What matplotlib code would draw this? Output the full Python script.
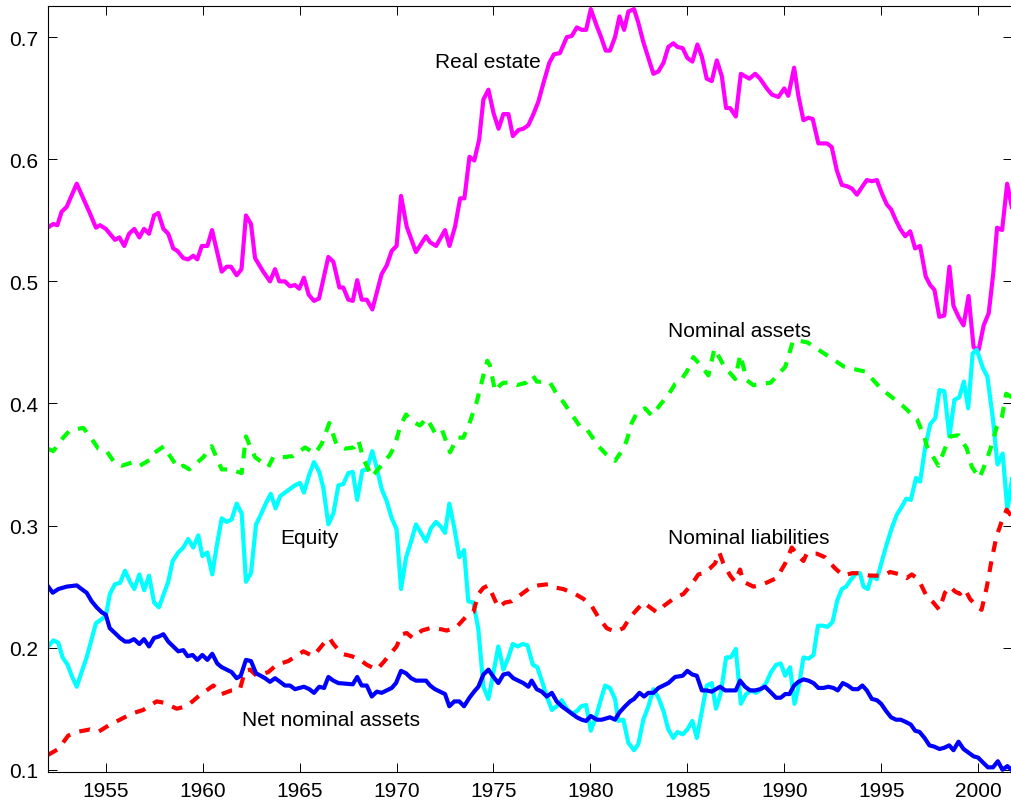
import matplotlib
matplotlib.use("Agg")
import matplotlib.pyplot as plt

plt.rcParams['font.family'] = ['Liberation Sans', 'DejaVu Sans']

# household portfolio shares, quarterly
re_year = [1952.0, 1952.29, 1952.5, 1952.72, 1952.98, 1953.5, 1953.92, 1954.2, 1954.49, 1954.7,
           1955.0, 1955.47, 1955.7, 1955.95, 1956.2, 1956.47, 1956.73, 1956.97, 1957.23, 1957.49,
           1957.71, 1957.97, 1958.22, 1958.48, 1958.69, 1959.0, 1959.25, 1959.51, 1959.72, 1959.95,
           1960.24, 1960.48, 1960.98, 1961.24, 1961.46, 1961.75, 1962.0, 1962.23, 1962.49, 1962.7,
           1963.12, 1963.47, 1963.73, 1963.95, 1964.24, 1964.5, 1964.76, 1964.98, 1965.22, 1965.47,
           1965.74, 1966.0, 1966.48, 1966.74, 1967.05, 1967.25, 1967.51, 1967.74, 1967.97, 1968.2,
           1968.46, 1968.75, 1969.23, 1969.49, 1969.75, 1970.0, 1970.23, 1970.52, 1971.0, 1971.52,
           1971.73, 1972.04, 1972.5, 1972.73, 1973.02, 1973.28, 1973.5, 1973.76, 1974.01, 1974.26,
           1974.48, 1974.74, 1975.0, 1975.26, 1975.51, 1975.77, 1976.0, 1976.29, 1976.54, 1976.8,
           1977.06, 1977.31, 1977.57, 1977.88, 1978.12, 1978.43, 1978.78, 1979.04, 1979.3, 1979.55,
           1979.78, 1980.02, 1980.33, 1980.53, 1980.79, 1981.01, 1981.27, 1981.5, 1981.74, 1981.96,
           1982.25, 1982.47, 1982.73, 1982.99, 1983.25, 1983.51, 1983.77, 1984.02, 1984.28, 1984.49,
           1984.76, 1985.0, 1985.26, 1985.52, 1985.75, 1986.0, 1986.26, 1986.52, 1986.78, 1987.0,
           1987.21, 1987.5, 1987.76, 1988.2, 1988.5, 1988.75, 1989.1, 1989.36, 1989.7, 1990.0,
           1990.21, 1990.51, 1990.73, 1990.99, 1991.25, 1991.47, 1991.76, 1992.2, 1992.45, 1992.71,
           1992.97, 1993.23, 1993.49, 1993.75, 1994.0, 1994.26, 1994.52, 1994.78, 1995.04, 1995.29,
           1995.51, 1995.76, 1995.98, 1996.24, 1996.5, 1996.75, 1997.01, 1997.3, 1997.53, 1997.75,
           1998.0, 1998.26, 1998.52, 1998.73, 1998.99, 1999.25, 1999.51, 1999.77, 2000.03, 2000.29,
           2000.55, 2000.78, 2000.98, 2001.24, 2001.5, 2001.74]
re_val = [0.544, 0.547, 0.546, 0.557, 0.561, 0.580, 0.565, 0.555, 0.544, 0.546,
          0.543, 0.534, 0.536, 0.529, 0.539, 0.543, 0.536, 0.543, 0.539, 0.554,
          0.556, 0.543, 0.539, 0.527, 0.525, 0.519, 0.518, 0.521, 0.518, 0.529,
          0.529, 0.542, 0.508, 0.512, 0.512, 0.505, 0.510, 0.554, 0.547, 0.519,
          0.508, 0.500, 0.510, 0.500, 0.500, 0.496, 0.497, 0.494, 0.503, 0.489,
          0.484, 0.486, 0.520, 0.516, 0.495, 0.495, 0.485, 0.484, 0.501, 0.485,
          0.485, 0.477, 0.506, 0.513, 0.525, 0.529, 0.570, 0.545, 0.524, 0.537,
          0.532, 0.529, 0.542, 0.529, 0.545, 0.568, 0.568, 0.602, 0.599, 0.616,
          0.649, 0.657, 0.638, 0.625, 0.637, 0.637, 0.619, 0.624, 0.625, 0.628,
          0.637, 0.647, 0.662, 0.679, 0.686, 0.687, 0.700, 0.701, 0.708, 0.706,
          0.706, 0.723, 0.709, 0.701, 0.689, 0.689, 0.700, 0.717, 0.706, 0.721,
          0.723, 0.712, 0.696, 0.683, 0.670, 0.672, 0.679, 0.692, 0.695, 0.692,
          0.691, 0.683, 0.680, 0.694, 0.684, 0.666, 0.664, 0.681, 0.668, 0.642,
          0.642, 0.635, 0.670, 0.666, 0.670, 0.666, 0.658, 0.653, 0.651, 0.658,
          0.652, 0.675, 0.652, 0.632, 0.634, 0.633, 0.613, 0.613, 0.610, 0.591,
          0.579, 0.578, 0.576, 0.571, 0.577, 0.583, 0.582, 0.583, 0.572, 0.563,
          0.559, 0.550, 0.543, 0.537, 0.541, 0.527, 0.529, 0.504, 0.497, 0.493,
          0.471, 0.472, 0.512, 0.480, 0.471, 0.464, 0.488, 0.446, 0.444, 0.464,
          0.474, 0.506, 0.544, 0.542, 0.580, 0.561]

eq_year = [1952.03, 1952.29, 1952.55, 1952.77, 1953.03, 1953.24, 1953.5, 1953.75, 1954.01, 1954.27,
           1954.49, 1954.75, 1955.0, 1955.21, 1955.47, 1955.73, 1955.99, 1956.25, 1956.47, 1956.73,
           1956.98, 1957.23, 1957.49, 1957.74, 1957.97, 1958.22, 1958.45, 1958.74, 1959.0, 1959.25,
           1959.51, 1959.77, 1959.98, 1960.24, 1960.49, 1960.72, 1960.98, 1961.24, 1961.49, 1961.75,
           1962.01, 1962.23, 1962.49, 1962.75, 1963.0, 1963.25, 1963.51, 1963.76, 1963.99, 1964.24,
           1964.5, 1964.76, 1965.02, 1965.22, 1965.5, 1965.74, 1966.01, 1966.22, 1966.48, 1966.74,
           1967.0, 1967.25, 1967.51, 1967.74, 1967.97, 1968.23, 1968.46, 1968.75, 1968.98, 1969.23,
           1969.49, 1969.75, 1970.0, 1970.23, 1970.49, 1970.75, 1971.0, 1971.26, 1971.52, 1971.78,
           1972.04, 1972.29, 1972.5, 1972.72, 1972.98, 1973.24, 1973.48, 1973.7, 1973.96, 1974.22,
           1974.48, 1974.74, 1975.0, 1975.25, 1975.51, 1975.77, 1975.99, 1976.25, 1976.51, 1976.75,
           1977.03, 1977.26, 1977.49, 1977.75, 1978.01, 1978.26, 1978.52, 1978.78, 1979.04, 1979.3,
           1979.52, 1979.78, 1980.02, 1980.28, 1980.53, 1980.76, 1981.01, 1981.27, 1981.44, 1981.7,
           1981.96, 1982.25, 1982.47, 1982.73, 1982.99, 1983.25, 1983.51, 1983.77, 1984.02, 1984.28,
           1984.49, 1984.76, 1985.0, 1985.26, 1985.49, 1985.75, 1986.0, 1986.26, 1986.48, 1986.73,
           1987.0, 1987.24, 1987.5, 1987.76, 1988.03, 1988.29, 1988.55, 1988.81, 1989.06, 1989.32,
           1989.58, 1989.82, 1990.05, 1990.3, 1990.53, 1990.78, 1990.99, 1991.25, 1991.51, 1991.74,
           1991.99, 1992.23, 1992.49, 1992.74, 1992.97, 1993.19, 1993.45, 1993.71, 1993.91, 1994.09,
           1994.31, 1994.52, 1994.78, 1995.04, 1995.29, 1995.55, 1995.81, 1996.01, 1996.29, 1996.53,
           1996.8, 1997.01, 1997.27, 1997.53, 1997.79, 1998.01, 1998.26, 1998.52, 1998.78, 1999.03,
           1999.27, 1999.49, 1999.72, 1999.93, 2000.25, 2000.48, 2000.76, 2001.0, 2001.27, 2001.51,
           2001.75]
eq_val = [0.201, 0.206, 0.204, 0.192, 0.186, 0.177, 0.168, 0.180, 0.192, 0.207,
          0.220, 0.223, 0.226, 0.244, 0.252, 0.253, 0.263, 0.254, 0.248, 0.260,
          0.247, 0.259, 0.237, 0.233, 0.243, 0.254, 0.271, 0.278, 0.282, 0.289,
          0.282, 0.292, 0.275, 0.278, 0.260, 0.283, 0.306, 0.303, 0.305, 0.318,
          0.310, 0.254, 0.261, 0.301, 0.309, 0.318, 0.326, 0.314, 0.324, 0.327,
          0.330, 0.333, 0.335, 0.327, 0.342, 0.352, 0.344, 0.331, 0.301, 0.310,
          0.333, 0.334, 0.343, 0.344, 0.321, 0.345, 0.346, 0.361, 0.347, 0.330,
          0.320, 0.306, 0.297, 0.248, 0.274, 0.287, 0.301, 0.294, 0.287, 0.298,
          0.303, 0.299, 0.294, 0.318, 0.298, 0.274, 0.280, 0.238, 0.237, 0.215,
          0.168, 0.158, 0.180, 0.201, 0.182, 0.192, 0.203, 0.201, 0.203, 0.202,
          0.186, 0.184, 0.173, 0.160, 0.149, 0.152, 0.157, 0.150, 0.146, 0.148,
          0.152, 0.153, 0.132, 0.143, 0.157, 0.169, 0.167, 0.158, 0.140, 0.141,
          0.122, 0.116, 0.121, 0.141, 0.152, 0.166, 0.159, 0.148, 0.133, 0.126,
          0.131, 0.129, 0.133, 0.140, 0.126, 0.148, 0.169, 0.171, 0.150, 0.163,
          0.192, 0.192, 0.199, 0.154, 0.162, 0.165, 0.163, 0.166, 0.171, 0.180,
          0.186, 0.187, 0.177, 0.184, 0.154, 0.171, 0.192, 0.191, 0.194, 0.218,
          0.218, 0.217, 0.221, 0.239, 0.248, 0.250, 0.256, 0.261, 0.261, 0.250,
          0.248, 0.259, 0.256, 0.271, 0.285, 0.298, 0.309, 0.314, 0.322, 0.321,
          0.339, 0.336, 0.364, 0.383, 0.388, 0.411, 0.410, 0.373, 0.403, 0.405,
          0.418, 0.396, 0.441, 0.444, 0.429, 0.422, 0.388, 0.350, 0.359, 0.313,
          0.338]

na_year = [1952.0, 1952.29, 1952.8, 1953.15, 1953.84, 1954.18, 1954.61, 1955.04, 1955.47, 1955.82,
           1956.42, 1956.76, 1957.28, 1957.45, 1958.0, 1958.31, 1958.74, 1959.0, 1959.31, 1959.6,
           1960.03, 1960.46, 1960.68, 1960.98, 1961.41, 1962.01, 1962.23, 1962.47, 1962.7, 1963.38,
           1963.64, 1964.16, 1964.67, 1965.28, 1965.79, 1966.14, 1966.53, 1966.91, 1967.34, 1967.8,
           1968.03, 1968.28, 1968.72, 1969.15, 1969.66, 1969.92, 1970.18, 1970.49, 1970.83, 1971.21,
           1971.56, 1971.98, 1972.33, 1972.76, 1973.13, 1973.44, 1973.7, 1974.13, 1974.48, 1974.68,
           1974.82, 1975.08, 1975.34, 1975.51, 1975.85, 1976.2, 1976.68, 1977.02, 1977.23, 1977.92,
           1978.18, 1978.61, 1978.95, 1979.47, 1979.81, 1980.07, 1980.41, 1980.84, 1981.27, 1981.7,
           1981.88, 1982.13, 1982.39, 1982.82, 1983.17, 1983.6, 1984.02, 1984.37, 1984.66, 1984.97,
           1985.31, 1985.75, 1986.09, 1986.4, 1986.88, 1987.47, 1987.73, 1988.07, 1988.41, 1989.3,
           1990.05, 1990.43, 1990.56, 1991.2, 1992.15, 1993.1, 1994.2, 1995.0, 1996.12, 1996.85,
           1997.22, 1997.36, 1997.95, 1998.39, 1998.56, 1998.99, 1999.42, 1999.68, 2000.07, 2000.28,
           2000.62, 2000.97, 2001.23, 2001.45, 2001.75]
na_val = [0.363, 0.361, 0.372, 0.378, 0.380, 0.373, 0.363, 0.361, 0.351, 0.349,
          0.352, 0.349, 0.354, 0.359, 0.365, 0.357, 0.347, 0.349, 0.346, 0.350,
          0.356, 0.365, 0.357, 0.346, 0.346, 0.343, 0.373, 0.364, 0.356, 0.348,
          0.356, 0.356, 0.357, 0.364, 0.359, 0.367, 0.384, 0.366, 0.363, 0.364,
          0.370, 0.355, 0.340, 0.348, 0.358, 0.366, 0.381, 0.391, 0.385, 0.382,
          0.388, 0.376, 0.379, 0.360, 0.372, 0.372, 0.381, 0.401, 0.423, 0.435,
          0.431, 0.410, 0.415, 0.417, 0.417, 0.415, 0.417, 0.423, 0.418, 0.417,
          0.410, 0.401, 0.393, 0.381, 0.379, 0.373, 0.365, 0.358, 0.353, 0.363,
          0.370, 0.384, 0.392, 0.396, 0.390, 0.399, 0.407, 0.416, 0.419, 0.426,
          0.438, 0.430, 0.423, 0.445, 0.431, 0.420, 0.440, 0.419, 0.415, 0.417,
          0.430, 0.450, 0.452, 0.450, 0.440, 0.430, 0.426, 0.412, 0.398, 0.387,
          0.373, 0.365, 0.349, 0.367, 0.373, 0.374, 0.363, 0.348, 0.339, 0.347,
          0.362, 0.381, 0.389, 0.408, 0.405]

nl_year = [1952.0, 1952.55, 1953.06, 1953.5, 1954.18, 1954.61, 1955.21, 1955.73, 1956.33, 1956.93,
           1957.62, 1957.97, 1958.66, 1959.17, 1959.77, 1960.2, 1960.55, 1960.98, 1961.49, 1961.92,
           1962.18, 1962.44, 1962.78, 1963.38, 1963.82, 1964.41, 1965.19, 1965.7, 1966.22, 1966.53,
           1966.74, 1967.17, 1967.69, 1968.12, 1968.46, 1968.98, 1969.32, 1970.0, 1970.27, 1970.52,
           1970.83, 1971.3, 1971.73, 1972.33, 1972.59, 1973.1, 1973.62, 1973.96, 1974.22, 1974.48,
           1974.74, 1974.96, 1975.25, 1975.6, 1975.94, 1976.46, 1976.97, 1977.31, 1977.83, 1978.26,
           1978.6, 1979.21, 1979.64, 1980.07, 1980.41, 1980.84, 1981.27, 1981.7, 1982.05, 1982.39,
           1982.73, 1983.08, 1983.42, 1983.77, 1984.28, 1984.8, 1985.23, 1985.57, 1985.83, 1986.17,
           1986.43, 1986.65, 1986.86, 1987.21, 1987.46, 1987.72, 1987.89, 1988.41, 1988.92, 1989.61,
           1990.05, 1990.39, 1990.73, 1990.99, 1991.16, 1991.68, 1992.11, 1992.62, 1993.05, 1993.49,
           1993.91, 1994.43, 1995.12, 1995.46, 1995.98, 1996.32, 1996.58, 1996.92, 1997.35, 1997.69,
           1998.0, 1998.29, 1998.55, 1998.81, 1999.06, 1999.32, 1999.58, 1999.92, 2000.18, 2000.44,
           2000.7, 2000.95, 2001.21, 2001.47, 2001.71]
nl_val = [0.112, 0.117, 0.128, 0.131, 0.133, 0.131, 0.137, 0.141, 0.146, 0.149,
          0.156, 0.155, 0.150, 0.152, 0.160, 0.165, 0.169, 0.162, 0.165, 0.166,
          0.181, 0.182, 0.177, 0.180, 0.186, 0.189, 0.197, 0.193, 0.203, 0.208,
          0.203, 0.195, 0.193, 0.190, 0.186, 0.182, 0.188, 0.201, 0.211, 0.212,
          0.208, 0.214, 0.216, 0.215, 0.214, 0.217, 0.226, 0.229, 0.244, 0.249,
          0.251, 0.243, 0.233, 0.237, 0.238, 0.244, 0.250, 0.251, 0.252, 0.249,
          0.248, 0.244, 0.240, 0.234, 0.225, 0.216, 0.213, 0.216, 0.225, 0.231,
          0.237, 0.233, 0.229, 0.234, 0.240, 0.244, 0.252, 0.260, 0.261, 0.265,
          0.269, 0.278, 0.269, 0.259, 0.254, 0.264, 0.254, 0.250, 0.252, 0.257,
          0.269, 0.282, 0.275, 0.271, 0.277, 0.277, 0.274, 0.265, 0.259, 0.261,
          0.261, 0.259, 0.259, 0.262, 0.260, 0.257, 0.260, 0.256, 0.242, 0.237,
          0.231, 0.245, 0.250, 0.246, 0.244, 0.248, 0.240, 0.234, 0.231, 0.249,
          0.272, 0.291, 0.303, 0.313, 0.308]

nn_year = [1952.03, 1952.26, 1952.55, 1952.98, 1953.5, 1953.75, 1954.01, 1954.27, 1954.53, 1954.79,
           1955.0, 1955.2, 1955.47, 1955.73, 1955.99, 1956.21, 1956.45, 1956.73, 1956.97, 1957.23,
           1957.49, 1957.71, 1957.97, 1958.22, 1958.48, 1958.74, 1959.0, 1959.22, 1959.48, 1959.72,
           1959.98, 1960.24, 1960.49, 1960.75, 1960.98, 1961.24, 1961.49, 1961.75, 1961.96, 1962.23,
           1962.49, 1962.75, 1962.99, 1963.21, 1963.47, 1963.73, 1963.99, 1964.24, 1964.5, 1964.76,
           1964.98, 1965.22, 1965.5, 1965.74, 1966.01, 1966.26, 1966.48, 1966.74, 1967.0, 1967.74,
           1967.97, 1968.2, 1968.46, 1968.72, 1968.98, 1969.23, 1969.49, 1969.75, 1969.97, 1970.23,
           1970.49, 1970.75, 1971.0, 1971.3, 1971.52, 1971.73, 1971.98, 1972.24, 1972.5, 1972.72,
           1972.98, 1973.24, 1973.48, 1973.76, 1974.0, 1974.22, 1974.48, 1974.74, 1975.0, 1975.25,
           1975.51, 1975.77, 1976.02, 1976.28, 1976.54, 1976.8, 1976.97, 1977.23, 1977.49, 1977.75,
           1978.01, 1978.26, 1978.52, 1978.78, 1979.04, 1979.3, 1979.55, 1979.78, 1980.02, 1980.33,
           1980.59, 1980.81, 1981.01, 1981.27, 1981.5, 1981.79, 1982.05, 1982.25, 1982.53, 1982.77,
           1982.99, 1983.25, 1983.51, 1983.77, 1984.02, 1984.37, 1984.76, 1985.0, 1985.26, 1985.49,
           1985.75, 1986.0, 1986.26, 1986.69, 1986.95, 1987.21, 1987.5, 1987.72, 1987.98, 1988.24,
           1988.5, 1988.75, 1989.01, 1989.27, 1989.58, 1989.82, 1990.05, 1990.27, 1990.51, 1990.73,
           1990.99, 1991.25, 1991.51, 1991.76, 1992.02, 1992.28, 1992.54, 1992.76, 1993.02, 1993.28,
           1993.54, 1993.8, 1994.03, 1994.26, 1994.52, 1994.78, 1995.0, 1995.26, 1995.51, 1995.77,
           1996.01, 1996.29, 1996.53, 1996.75, 1996.98, 1997.24, 1997.49, 1997.73, 1998.01, 1998.25,
           1998.51, 1998.73, 1998.99, 1999.25, 1999.51, 1999.77, 2000.0, 2000.25, 2000.51, 2000.77,
           2001.02, 2001.26, 2001.51, 2001.72]
nn_val = [0.250, 0.245, 0.248, 0.250, 0.251, 0.248, 0.245, 0.238, 0.233, 0.229,
          0.227, 0.216, 0.212, 0.208, 0.205, 0.205, 0.207, 0.203, 0.207, 0.201,
          0.208, 0.209, 0.211, 0.205, 0.201, 0.197, 0.198, 0.193, 0.194, 0.190,
          0.194, 0.190, 0.195, 0.187, 0.184, 0.182, 0.180, 0.175, 0.177, 0.190,
          0.189, 0.179, 0.177, 0.175, 0.172, 0.175, 0.172, 0.169, 0.169, 0.166,
          0.167, 0.168, 0.166, 0.163, 0.168, 0.167, 0.176, 0.173, 0.171, 0.170,
          0.176, 0.169, 0.169, 0.160, 0.164, 0.163, 0.165, 0.167, 0.171, 0.181,
          0.179, 0.175, 0.173, 0.173, 0.173, 0.169, 0.166, 0.164, 0.162, 0.152,
          0.156, 0.156, 0.152, 0.159, 0.164, 0.168, 0.178, 0.182, 0.176, 0.171,
          0.178, 0.179, 0.175, 0.173, 0.171, 0.168, 0.173, 0.166, 0.164, 0.160,
          0.163, 0.156, 0.152, 0.149, 0.146, 0.143, 0.141, 0.140, 0.144, 0.141,
          0.141, 0.142, 0.143, 0.141, 0.147, 0.152, 0.156, 0.158, 0.163, 0.160,
          0.163, 0.163, 0.167, 0.169, 0.171, 0.176, 0.177, 0.181, 0.178, 0.177,
          0.165, 0.165, 0.164, 0.168, 0.165, 0.165, 0.165, 0.173, 0.168, 0.165,
          0.165, 0.166, 0.168, 0.164, 0.159, 0.159, 0.162, 0.162, 0.169, 0.172,
          0.174, 0.173, 0.171, 0.167, 0.167, 0.168, 0.167, 0.165, 0.171, 0.169,
          0.166, 0.166, 0.169, 0.165, 0.158, 0.157, 0.154, 0.148, 0.143, 0.141,
          0.141, 0.139, 0.137, 0.132, 0.131, 0.126, 0.120, 0.119, 0.117, 0.118,
          0.120, 0.116, 0.123, 0.117, 0.114, 0.111, 0.110, 0.106, 0.102, 0.102,
          0.107, 0.100, 0.103, 0.100]

xticks = [1955, 1960, 1965, 1970, 1975, 1980, 1985, 1990, 1995, 2000]
yticks = [0.1, 0.2, 0.3, 0.4, 0.5, 0.6, 0.7]

fig = plt.figure(figsize=(10.12, 8.04), dpi=100)
ax = fig.add_axes([0.0471, 0.0389, 0.9529, 0.9528])

lw = 3
ax.plot(re_year, re_val, color='#ff00ff', lw=lw)
ax.plot(eq_year, eq_val, color='#00ffff', lw=lw)
ax.plot(na_year, na_val, color='#00ff00', lw=lw, dashes=(2.6, 2.3))
ax.plot(nl_year, nl_val, color='#ff0000', lw=lw, dashes=(2.6, 2.3))
ax.plot(nn_year, nn_val, color='#0000ff', lw=lw)

fs = 15
ax.text(1972, 0.68, 'Real estate', fontsize=fs, va='center')
ax.text(1984, 0.46, 'Nominal assets', fontsize=fs, va='center')
ax.text(1964, 0.29, 'Equity', fontsize=fs, va='center')
ax.text(1984, 0.29, 'Nominal liabilities', fontsize=fs, va='center')
ax.text(1962, 0.1415, 'Net nominal assets', fontsize=fs, va='center')

ax.set_xlim(1952, 2001.75)
ax.set_ylim(0.0984, 0.7258)
ax.set_xticks(xticks)
ax.set_yticks(yticks)
ax.set_yticklabels(['%.1f' % v for v in yticks])
ax.tick_params(direction='in', length=6.5, width=0.7, labelsize=fs,
               top=True, right=True, color='black')
ax.tick_params(axis='x', pad=7)
ax.tick_params(axis='y', pad=7)
for s in ax.spines.values():
    s.set_linewidth(0.8)

fig.savefig('out.png', dpi=100)
